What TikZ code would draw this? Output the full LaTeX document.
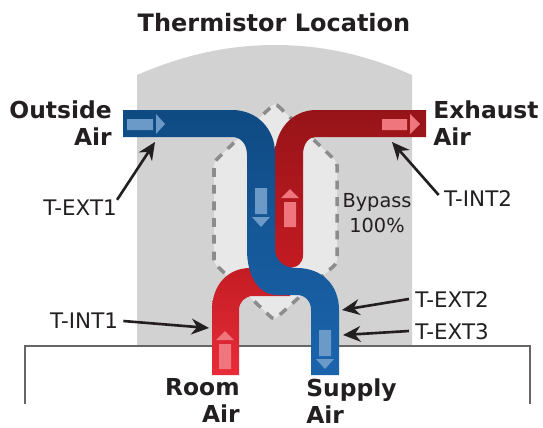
\documentclass[tikz,border=0pt]{standalone}
\usepackage{fontspec}
\setmainfont{DejaVu Sans}
\usetikzlibrary{arrows.meta}
\definecolor{housing}{RGB}{210,210,210}
\definecolor{corebox}{RGB}{232,232,232}
\definecolor{coreline}{RGB}{140,140,140}
\definecolor{wallline}{RGB}{102,102,102}
\definecolor{bluetop}{RGB}{15,74,130}
\definecolor{bluelow}{RGB}{27,100,172}
\definecolor{redtop}{RGB}{150,20,24}
\definecolor{redlow}{RGB}{196,26,34}
\definecolor{roomtop}{RGB}{196,28,36}
\definecolor{roomlow}{RGB}{232,44,56}
\definecolor{textdark}{RGB}{35,31,32}

\begin{document}
\begin{tikzpicture}[
  x=0.02cm, y=-0.02cm,
  airlabel/.style={
    font=\fontsize{13.3}{15.6}\selectfont\bfseries,
    text=textdark, inner sep=0pt
  },
  sensorlabel/.style={
    font=\fontsize{12.2}{14.7}\selectfont,
    text=textdark, inner sep=0pt, align=center
  },
  sensorarr/.style={
    -{Stealth[length=10pt, width=9pt]},
    line width=1.5pt, color=textdark
  },
  flowmark/.style={fill=#1!65!white}
]
\useasboundingbox (0,0) rectangle (543,427);

%% housing and wall
\fill[housing] (137,346) -- (137,75)
  .. controls (190,52) and (235,45) .. (275,45)
  .. controls (315,45) and (360,52) .. (412,75)
  -- (412,346) -- cycle;
\draw[wallline, line width=1.2pt] (25,404) -- (25,346) -- (530,346) -- (530,404);

%% bypass core
\draw[fill=corebox, draw=coreline, line width=2pt, dash pattern=on 5pt off 4.5pt,
      rounded corners=2pt]
  (275,103) -- (337,162) -- (337,263) -- (274,320) -- (214,263) -- (214,162) -- cycle;

%% exhaust duct
\shade[top color=redtop, bottom color=redlow]
  (426,110) -- (316,110) .. controls (292,110) and (275,130) .. (275,155)
  -- (275,255) .. controls (275,263) and (279,268) .. (287,268)
  .. controls (298,268) and (303,263) .. (303,255)
  -- (303,155) .. controls (303,143) and (309,137) .. (316,137)
  -- (426,137) -- cycle;

%% room air duct
\shade[top color=roomtop, bottom color=roomlow]
  (212,375) -- (212,310) .. controls (212,285) and (228,268) .. (250,268)
  -- (290,268) -- (290,296) -- (253,296)
  .. controls (245,296) and (239,302) .. (239,310)
  -- (239,375) -- cycle;

%% outside to supply duct
\shade[top color=bluetop, bottom color=bluelow, middle color=bluetop!45!bluelow]
  (123,110) -- (232,110) .. controls (258,110) and (275,130) .. (275,153)
  -- (275,248) .. controls (275,262) and (285,268) .. (297,268)
  .. controls (322,268) and (339,285) .. (339,310)
  -- (339,375) -- (311,375) -- (311,310)
  .. controls (311,302) and (306,295) .. (297,295)
  -- (277,295) .. controls (258,295) and (247,275) .. (247,250)
  -- (247,155) .. controls (247,143) and (240,137) .. (232,137)
  -- (123,137) -- cycle;

%% flow marks
\fill[flowmark=bluelow]
  (127,119) rectangle (153,130) (156,114) -- (165,124) -- (156,134) -- cycle;
\fill[flowmark=bluelow]
  (255,188) rectangle (267,214) (252,217) -- (270,217) -- (261,227) -- cycle;
\fill[flowmark=bluelow]
  (319,330) rectangle (331,356) (316,359) -- (334,359) -- (325,369) -- cycle;
\fill[flowmark=roomlow]
  (382,119) rectangle (407,130) (410,114) -- (420,124) -- (410,134) -- cycle;
\fill[flowmark=roomlow]
  (284,202) rectangle (296,227) (281,198) -- (299,198) -- (290,189) -- cycle;
\fill[flowmark=roomlow]
  (219,344) rectangle (231,369) (216,340) -- (234,340) -- (225,331) -- cycle;

%% air labels
\node[airlabel, font=\fontsize{13.65}{16}\selectfont\bfseries] (title) at (274,23) {Thermistor Location};
\node[airlabel, align=right, anchor=north east] (outside) at (112,100) {Outside\\Air};
\node[airlabel, align=left, anchor=north west] (exhaust) at (433,100) {Exhaust\\Air};
\node[airlabel, align=right, anchor=north east] (room) at (240,378) {Room\\Air};
\node[airlabel, align=left, anchor=north west] (supply) at (306,378) {Supply\\Air};
\node[sensorlabel, font=\fontsize{11}{14.7}\selectfont] (bypass) at (377,213) {Bypass\\100\%};

%% sensors
\node[sensorlabel] (text1) at (80,208) {T-EXT1};
\node[sensorlabel] (tint2) at (478,199) {T-INT2};
\node[sensorlabel] (text2) at (452,300) {T-EXT2};
\node[sensorlabel] (text3) at (452,332) {T-EXT3};
\node[sensorlabel] (tint1) at (84,321) {T-INT1};

\coordinate (ptext1) at (155,142);
\coordinate (ptint2) at (392,142);
\coordinate (ptext2) at (342,310);
\coordinate (ptext3) at (343,335);
\coordinate (ptint1) at (209,328);

\draw[sensorarr] (text1.north east) -- (ptext1);
\draw[sensorarr] (tint2.west) ++(-5,-4) -- (ptint2);
\draw[sensorarr] (text2.west) ++(-6,-1) -- (ptext2);
\draw[sensorarr] (text3.west) ++(-6,-1) -- (ptext3);
\draw[sensorarr] (tint1.east) ++(5,0) -- (ptint1);

\end{tikzpicture}
\end{document}
